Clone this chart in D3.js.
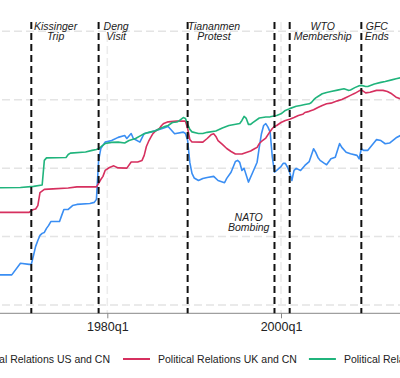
<!DOCTYPE html>
<html>
<head>
<meta charset="utf-8">
<script src="https://cdn.jsdelivr.net/npm/d3@7"></script>
<style>
  body { margin: 0; background: #fff; }
  svg { display: block; overflow: hidden; font-family: "Liberation Sans", Arial, sans-serif; }
</style>
</head>
<body>
<div id="chart"></div>
<script>
// quarterly series, [period, value]
const usSeries = [
  ["1967q1",-4.68],["1969q1",-4.68],["1970q1",-4.17],["1971q1",-4.22],["1971q2",-4.22],["1971q3",-3.83],
  ["1971q4",-3.43],["1972q1",-3.17],["1972q2",-2.95],["1972q3",-2.86],["1972q4",-2.82],["1973q1",-2.64],
  ["1973q2",-2.51],["1973q3",-2.34],["1974q3",-2.34],["1974q4",-2.07],["1975q1",-1.81],["1975q3",-1.81],
  ["1976q1",-1.64],["1976q3",-1.59],["1978q1",-1.55],["1978q3",-1.50],["1978q4",-1.37],["1979q1",0.34],
  ["1979q2",0.86],["1979q4",1.14],["1980q3",1.21],["1981q2",1.35],["1982q1",1.43],["1982q2",1.30],
  ["1982q4",1.52],["1983q1",1.30],["1983q4",1.14],["1984q2",1.52],["1985q1",1.58],["1986q2",1.73],
  ["1987q1",1.83],["1987q4",1.51],["1988q4",1.58],["1989q1",1.52],["1989q2",1.21],["1989q3",0.25],
  ["1989q4",-0.23],["1990q1",-0.43],["1990q3",-0.54],["1991q1",-0.45],["1991q3",-0.41],["1992q2",-0.36],
  ["1992q4",-0.54],["1993q3",-0.64],["1993q4",-0.45],["1994q2",-0.18],["1994q4",0.29],["1995q1",0.34],
  ["1995q2",0.25],["1995q3",-0.10],["1995q4",-0.01],["1996q2",-0.61],["1996q4",-0.18],["1997q2",0.26],
  ["1997q3",0.92],["1997q4",1.51],["1998q1",1.87],["1998q2",1.95],["1998q3",1.80],["1998q4",1.58],
  ["1999q1",0.48],["1999q2",-0.18],["1999q3",-0.10],["2000q1",0.07],["2000q2",0.21],["2000q3",0.21],
  ["2000q4",0.04],["2001q1",-0.19],["2001q2",-0.54],["2001q3",-0.10],["2001q4",-0.01],["2002q2",-0.10],
  ["2002q4",0.12],["2003q2",0.29],["2003q4",0.85],["2004q1",0.69],["2004q2",0.47],["2004q3",0.34],
  ["2005q1",0.21],["2005q2",0.15],["2005q4",0.41],["2006q2",0.48],["2006q4",1.08],["2007q1",0.91],
  ["2007q3",0.70],["2008q1",0.63],["2008q4",0.56],["2009q1",0.41],["2009q2",0.85],["2009q3",0.78],
  ["2010q1",0.78],["2010q4",1.14],["2011q1",1.25],["2011q3",1.21],["2012q1",1.07],["2012q3",1.10],
  ["2013q2",1.33],["2013q4",1.43]
];
const ukSeries = [
  ["1967q1",-1.94],["1971q1",-1.94],["1971q2",-1.86],["1971q3",-1.81],["1971q4",-1.79],["1972q1",-1.64],
  ["1972q2",-1.07],["1972q4",-0.93],["1973q4",-0.91],["1975q3",-0.87],["1976q3",-0.82],["1978q4",-0.82],
  ["1979q1",-0.67],["1979q2",-0.50],["1979q3",-0.36],["1979q4",-0.10],["1980q2",0.03],["1980q4",0.10],
  ["1981q2",0.01],["1982q2",0.00],["1982q4",0.27],["1983q3",0.27],["1984q1",0.34],["1984q2",0.56],
  ["1984q3",0.95],["1984q4",1.17],["1985q1",1.35],["1985q2",1.51],["1985q3",1.61],["1985q4",1.68],
  ["1986q1",1.74],["1986q2",1.87],["1986q3",1.96],["1987q1",2.03],["1988q1",2.06],["1989q1",2.06],
  ["1989q2",1.74],["1989q3",1.26],["1989q4",1.15],["1991q1",1.14],["1991q3",1.30],["1992q1",1.48],
  ["1992q2",1.51],["1992q3",1.39],["1992q4",1.21],["1993q2",1.04],["1993q4",0.86],["1994q2",0.73],
  ["1994q4",0.62],["1995q3",0.62],["1996q1",0.69],["1996q3",0.75],["1997q1",0.86],["1997q2",0.91],
  ["1997q3",1.08],["1997q4",1.17],["1998q2",1.32],["1998q4",1.61],["1999q1",1.74],["1999q2",1.83],
  ["1999q3",1.87],["2000q1",2.00],["2000q3",2.09],["2001q1",2.14],["2001q3",2.22],["2002q1",2.31],
  ["2002q3",2.36],["2002q4",2.44],["2003q2",2.49],["2003q4",2.56],["2004q2",2.66],["2004q4",2.75],
  ["2005q2",2.82],["2005q4",2.85],["2006q3",2.95],["2007q1",3.01],["2007q3",3.10],["2008q1",3.19],
  ["2008q3",3.28],["2009q1",3.39],["2009q2",3.43],["2009q4",3.30],["2010q2",3.33],["2011q1",3.41],
  ["2011q4",3.41],["2012q2",3.36],["2012q4",3.26],["2013q2",3.11],["2013q4",3.04]
];
const frSeries = [
  ["1967q1",-0.86],["1970q1",-0.85],["1971q3",-0.80],["1972q3",-0.74],["1972q4",0.34],["1973q1",0.45],
  ["1975q2",0.47],["1975q3",0.60],["1975q4",0.66],["1977q3",0.71],["1978q2",0.78],["1978q4",0.82],
  ["1979q1",0.86],["1979q2",0.93],["1979q4",1.08],["1980q3",1.13],["1981q2",1.14],["1982q1",1.10],
  ["1982q3",1.21],["1983q2",1.30],["1984q1",1.46],["1984q3",1.54],["1985q1",1.59],["1985q3",1.63],
  ["1986q1",1.73],["1986q3",1.81],["1987q1",1.87],["1987q3",2.00],["1988q1",2.02],["1988q2",2.07],
  ["1988q4",2.22],["1989q1",2.18],["1989q2",1.92],["1989q3",1.70],["1989q4",1.59],["1990q3",1.52],
  ["1991q1",1.52],["1991q3",1.57],["1992q3",1.63],["1993q2",1.76],["1994q1",1.87],["1995q2",1.96],
  ["1995q3",2.09],["1995q4",2.27],["1996q1",2.18],["1996q2",1.92],["1996q3",1.92],["1996q4",2.00],
  ["1997q3",2.20],["1998q2",2.24],["1998q4",2.25],["1999q3",2.31],["2000q1",2.38],["2000q3",2.53],
  ["2001q1",2.61],["2001q4",2.71],["2002q2",2.75],["2002q4",2.79],["2003q2",2.82],["2003q3",2.88],
  ["2003q4",2.99],["2004q1",3.08],["2004q2",3.14],["2004q4",3.26],["2005q2",3.32],["2005q4",3.36],
  ["2006q3",3.42],["2007q2",3.48],["2007q4",3.41],["2008q1",3.43],["2008q3",3.53],["2009q1",3.61],
  ["2009q2",3.63],["2009q4",3.58],["2010q1",3.58],["2010q4",3.69],["2011q3",3.76],["2012q1",3.80],
  ["2012q4",3.87],["2013q2",3.92],["2013q4",3.96]
];

const seriesNames = ["Political Relations US and CN", "Political Relations UK and CN", "Political Relations FR and CN"];
const seriesColors = ["#3a8ef3", "#d6305f", "#20b47c"];

const xTicks = ["1980q1", "2000q1"];
const yTicks = [-6, -3, 0, 3, 6];

const events = [
  { date: "1971q2", lines: ["Kissinger", "Trip"] },
  { date: "1979q1", lines: ["Deng", "Visit"] },
  { date: "1989q2", lines: ["Tiananmen", "Protest"] },
  { date: "1999q2", lines: ["NATO", "Bombing"] },
  { date: "2001q1", lines: ["WTO", "Membership"] },
  { date: "2009q2", lines: ["GFC", "Ends"] }
];

// quarters since 1960q1
function qIndex(s) {
  const [y, q] = s.split("q");
  return (+y - 1960) * 4 + (+q - 1);
}

const width = 400, height = 378;
const plotTop = 22, axisY = 313.3;

const svg = d3.select("#chart").append("svg")
  .attr("width", width)
  .attr("height", height);

const x = d3.scaleLinear()
  .domain([qIndex("1980q1"), qIndex("2000q1")])
  .range([107.3, 281]);

const y = d3.scaleLinear()
  .domain([-6, 6])
  .range([305, 31.3]);

// horizontal grid
svg.append("g").selectAll("line")
  .data(yTicks)
  .enter().append("line")
  .attr("x1", -10).attr("x2", width + 10)
  .attr("y1", d => y(d)).attr("y2", d => y(d))
  .attr("stroke", "#e4e4e4")
  .attr("stroke-width", 1.5)
  .attr("stroke-dasharray", "8,4");

// vertical grid at x ticks
svg.append("g").selectAll("line")
  .data(xTicks)
  .enter().append("line")
  .attr("x1", d => x(qIndex(d))).attr("x2", d => x(qIndex(d)))
  .attr("y1", plotTop).attr("y2", axisY)
  .attr("stroke", "#ececec")
  .attr("stroke-width", 1.5)
  .attr("stroke-dasharray", "8,4");

// x axis
const xAxis = d3.axisBottom(x)
  .tickValues(xTicks.map(qIndex))
  .tickFormat((d, i) => xTicks[i])
  .tickSize(5)
  .tickSizeOuter(0);

const gx = svg.append("g")
  .attr("transform", `translate(0,${axisY})`)
  .call(xAxis);
gx.select(".domain").remove();
gx.append("line")
  .attr("x1", -10).attr("x2", width + 10)
  .attr("stroke", "#888").attr("stroke-width", 1);
gx.selectAll(".tick line").attr("stroke", "#888");
gx.selectAll(".tick text")
  .attr("y", 9)
  .attr("fill", "#222")
  .style("font-size", "12.5px")
  .style("font-family", "'Liberation Sans', Arial, sans-serif");

// series
const line = d3.line()
  .x(d => x(qIndex(d[0])))
  .y(d => y(d[1]));

[usSeries, ukSeries, frSeries].forEach((s, i) => {
  svg.append("path")
    .datum(s)
    .attr("fill", "none")
    .attr("stroke", seriesColors[i])
    .attr("stroke-width", 1.6)
    .attr("stroke-linejoin", "round")
    .attr("d", line);
});

// event lines
svg.append("g").selectAll("line")
  .data(events)
  .enter().append("line")
  .attr("x1", d => x(qIndex(d.date))).attr("x2", d => x(qIndex(d.date)))
  .attr("y1", plotTop).attr("y2", axisY)
  .attr("stroke", "#111")
  .attr("stroke-width", 2)
  .attr("stroke-dasharray", "7,4");

// event labels: offset of block centre from the line, and baseline of first line
const labelOffset = [24.3, 17.5, 26.3, -25.8, 33, 15.5];
const labelTop = [29.5, 29.5, 29.5, 220.8, 29.5, 29.5];

events.forEach((ev, i) => {
  ev.lines.forEach((l, k) => {
    svg.append("text")
      .attr("x", x(qIndex(ev.date)) + labelOffset[i])
      .attr("y", labelTop[i] + k * 10.3)
      .attr("text-anchor", "middle")
      .attr("fill", "#222")
      .style("font-size", "10.5px")
      .style("font-style", "italic")
      .text(l);
  });
});

// legend
const legendY = 359;
const legend = svg.append("g");
const redLineX = 123, lineLen = 27, gapText = 8, gapItem = 12;

// red and green items go left to right from the red key
let cx = redLineX;
[1, 2].forEach(i => {
  legend.append("line")
    .attr("x1", cx).attr("x2", cx + lineLen)
    .attr("y1", legendY).attr("y2", legendY)
    .attr("stroke", seriesColors[i]).attr("stroke-width", 2);
  const t = legend.append("text")
    .attr("x", cx + lineLen + gapText)
    .attr("y", legendY + 4)
    .attr("fill", "#222")
    .style("font-size", "10.5px")
    .text(seriesNames[i]);
  cx += lineLen + gapText + t.node().getComputedTextLength() + gapItem;
});

// blue item sits before the red one
const blueText = legend.append("text")
  .attr("x", redLineX - gapItem - 1)
  .attr("y", legendY + 4)
  .attr("text-anchor", "end")
  .attr("fill", "#222")
  .style("font-size", "10.5px")
  .text(seriesNames[0]);
const bw = blueText.node().getComputedTextLength();
legend.append("line")
  .attr("x1", redLineX - gapItem - 1 - bw - gapText - lineLen)
  .attr("x2", redLineX - gapItem - 1 - bw - gapText)
  .attr("y1", legendY).attr("y2", legendY)
  .attr("stroke", seriesColors[0]).attr("stroke-width", 2);
</script>
</body>
</html>
